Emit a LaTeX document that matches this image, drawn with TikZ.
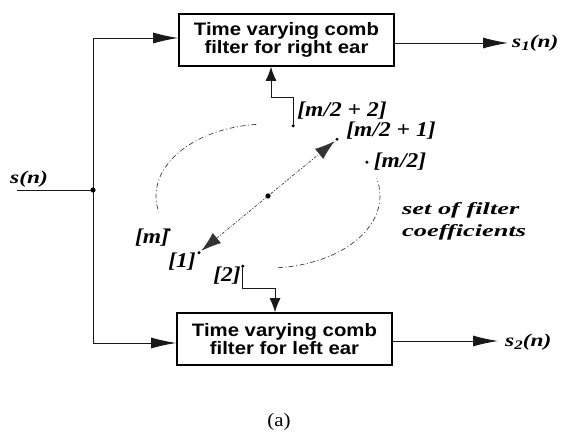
\documentclass[tikz,border=0pt]{standalone}
\usepackage{fontspec}
\usepackage{graphicx}
\setmainfont{Liberation Serif}
\newfontfamily\boxfont{Liberation Sans}
\usetikzlibrary{arrows.meta}
\newcommand{\hstretch}[2]{\scalebox{#1}[1]{#2}}
\newcommand{\sub}[1]{\raisebox{-3.5pt}{\fontsize{13}{13}\selectfont #1}}
\begin{document}
\begin{tikzpicture}[x=1pt,y=1pt,
  fbox/.style={draw, line width=1.7pt, minimum width=215pt, minimum height=52pt,
    inner sep=0pt, align=center, font=\boxfont\bfseries\fontsize{18}{17.5}\selectfont},
  wire/.style={line width=0.9pt, black!90},
  sig/.style={wire, -{Latex[length=25pt,width=11pt]}},
  fbarrow/.style={wire, -{Latex[length=14pt,width=11pt]}},
  ring/.style={line width=0.7pt, black!75, dash pattern=on 5pt off 2.5pt on 1pt off 2.5pt},
  dbl/.style={line width=0.6pt, black!80, dash pattern=on 3pt off 1.5pt on 1pt off 1.5pt,
    {Latex[length=20pt,width=13pt]}-{Latex[length=20pt,width=13pt]}, shorten <=3pt, shorten >=3pt},
  lab/.style={inner sep=0pt, font=\bfseries\itshape\fontsize{21}{21}\selectfont},
  sig lab/.style={inner sep=0pt, font=\bfseries\itshape\fontsize{18}{18}\selectfont},
  note/.style={inner sep=0pt, anchor=base west, font=\bfseries\itshape\fontsize{17}{17}\selectfont}
]
\fill[white] (0,0) rectangle (565,433);
\useasboundingbox (0,0) rectangle (565,433);

% boxes
\node[fbox] (top) at (286.5,393) {\hstretch{1.13}{Time varying comb}\\\hstretch{1.13}{filter for right ear}};
\node[fbox] (bot) at (284.5,94) {\hstretch{1.13}{Time varying comb}\\\hstretch{1.13}{filter for left ear}};

% input distribution
\coordinate (sin) at (17,243);
\coordinate (jn) at (93,243);
\coordinate (jt) at (93,395);
\coordinate (jb) at (93,90);
\draw[wire] (jt) -- (jb);
\draw[wire] (sin) -- (jn);
\fill (jn) circle (2.6pt);
\draw[sig] (jt) -- (jt -| top.west);
\draw[sig] (jb) -- (jb -| bot.west);
\node[sig lab] (sn) at (29,254) {\hstretch{1.3}{s(n)}};

% outputs
\coordinate (o1) at (508,390);
\coordinate (o2) at (498,92);
\draw[sig] (top.east |- o1) -- (o1);
\draw[sig] (bot.east |- o2) -- (o2);
\node[sig lab, anchor=west] (s1) at (512,390) {\hstretch{1.3}{s\sub{1}(n)}};
\node[sig lab, anchor=west] (s2) at (505,91) {\hstretch{1.3}{s\sub{2}(n)}};

% ring of coefficients
\coordinate (c) at (268,237);
\draw[ring] (c) ++(96:112pt and 72pt) arc[start angle=96, end angle=193, x radius=112pt, y radius=72pt];
\draw[ring] (c) ++(-85:112pt and 72pt) arc[start angle=-85, end angle=14, x radius=112pt, y radius=72pt];
\path (c) ++(77:112pt and 72pt) coordinate (d77);
\path (c) ++(52:112pt and 72pt) coordinate (d52);
\path (c) ++(28:112pt and 72pt) coordinate (d28);
\path (c) ++(208:112pt and 72pt) coordinate (d208);
\path (c) ++(232:112pt and 72pt) coordinate (d232);
\path (c) ++(257:112pt and 72pt) coordinate (d257);
\foreach \p in {d77,d52,d28,d208,d232,d257} \fill (\p) circle (1.7pt);
\fill (c) circle (2.6pt);
\draw[dbl] (d232) -- (d52);

% feedback to filters
\coordinate (fbt) at (271,336);
\coordinate (fbb) at (275,145);
\draw[fbarrow] (d77) |- (fbt) -- (fbt |- top.south);
\draw[fbarrow] (d257) |- (fbb) -- (fbb |- bot.north);

% coefficient labels
\node[lab] (l77) at (342,322) {\hstretch{1.12}{[m/2 + 2]}};
\node[lab] (l52) at (391,302) {\hstretch{1.12}{[m/2 + 1]}};
\node[lab] (l28) at (400,271) {\hstretch{1.12}{[m/2]}};
\node[lab] (l208) at (152,195) {\hstretch{1.12}{[m]}};
\node[lab] (l232) at (182,171) {\hstretch{1.12}{[1]}};
\node[lab] (l257) at (227,157) {\hstretch{1.12}{[2]}};

\node[note] (n1) at (402,218) {\hstretch{1.55}{set of filter}};
\node[note] (n2) at (402,196) {\hstretch{1.55}{coefficients}};

\node[inner sep=0pt, font=\fontsize{19}{19}\selectfont] (cap) at (279,11) {\hstretch{1.1}{(a)}};
\end{tikzpicture}
\end{document}
